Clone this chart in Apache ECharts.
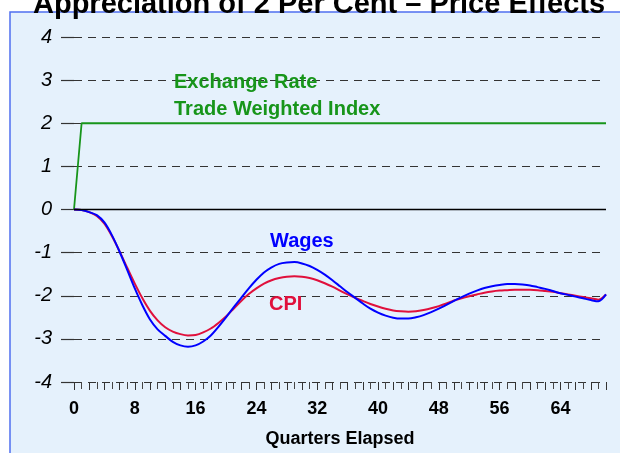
<!DOCTYPE html>
<html>
<head>
<meta charset="utf-8">
<script src="https://cdn.jsdelivr.net/npm/echarts@6/dist/echarts.min.js"></script>
<style>
  html, body { margin: 0; padding: 0; background: #fff; }
  #chart { width: 620px; height: 453px; }
</style>
</head>
<body>
<div id="chart"></div>
<script>
// quarters 0..70
var quarters = [];
for (var q = 0; q <= 70; q++) quarters.push(q);

var exchangeRate = [0, 2, 2, 2, 2, 2, 2, 2, 2, 2, 2, 2, 2, 2, 2, 2, 2, 2, 2, 2,
    2, 2, 2, 2, 2, 2, 2, 2, 2, 2, 2, 2, 2, 2, 2, 2, 2, 2, 2, 2,
    2, 2, 2, 2, 2, 2, 2, 2, 2, 2, 2, 2, 2, 2, 2, 2, 2, 2, 2, 2,
    2, 2, 2, 2, 2, 2, 2, 2, 2, 2, 2];

var wages = [0, -0.01, -0.06, -0.13, -0.3, -0.6, -0.98, -1.4, -1.83, -2.22,
    -2.55, -2.78, -2.93, -3.07, -3.15, -3.18, -3.15, -3.06, -2.92, -2.72,
    -2.5, -2.27, -2.05, -1.83, -1.63, -1.46, -1.34, -1.26, -1.23, -1.22,
    -1.25, -1.31, -1.4, -1.51, -1.64, -1.78, -1.92, -2.05, -2.18, -2.3,
    -2.39, -2.46, -2.51, -2.53, -2.53, -2.5, -2.45, -2.38, -2.3, -2.21,
    -2.12, -2.03, -1.95, -1.88, -1.82, -1.78, -1.75, -1.73, -1.73, -1.74,
    -1.76, -1.8, -1.84, -1.89, -1.94, -1.98, -2.02, -2.06, -2.1, -2.13, -1.97];

var cpi = [0, -0.01, -0.06, -0.15, -0.33, -0.62, -0.97, -1.35, -1.72, -2.06,
    -2.35, -2.57, -2.73, -2.83, -2.89, -2.92, -2.91, -2.85, -2.76, -2.63,
    -2.48, -2.3, -2.12, -1.96, -1.83, -1.72, -1.64, -1.59, -1.56, -1.55,
    -1.56, -1.59, -1.64, -1.71, -1.79, -1.88, -1.97, -2.05, -2.12, -2.19,
    -2.25, -2.3, -2.34, -2.36, -2.37, -2.36, -2.33, -2.29, -2.24, -2.18,
    -2.11, -2.06, -2.01, -1.97, -1.93, -1.9, -1.88, -1.87, -1.86, -1.86,
    -1.86, -1.87, -1.89, -1.91, -1.94, -1.97, -2.0, -2.03, -2.06, -2.09, -1.97];

function pairs(vals) {
    return vals.map(function (v, i) { return [quarters[i], v]; });
}

var font = '"Liberation Sans", Arial, sans-serif';
var chart = echarts.init(document.getElementById('chart'));

chart.setOption({
    backgroundColor: '#ffffff',
    animation: false,
    title: {
        text: 'Appreciation of 2 Per Cent \u2013 Price Effects',
        left: 28,
        top: -15,
        textStyle: { fontFamily: font, fontSize: 29, fontWeight: 'bold', color: '#000' }
    },
    graphic: [
        {
            type: 'rect', z: -10, silent: true,
            shape: { x: 10, y: 12, width: 620, height: 460 },
            style: { fill: '#e5f1fc', stroke: '#4f6ff0', lineWidth: 1.5 }
        },
        {
            type: 'text', left: 174, top: 72, z: 10,
            style: { text: 'Exchange Rate', font: 'bold 20px ' + font, fill: '#17951a' }
        },
        {
            type: 'text', left: 174, top: 99, z: 10,
            style: { text: 'Trade Weighted Index', font: 'bold 20px ' + font, fill: '#17951a' }
        },
        {
            type: 'text', left: 270, top: 231, z: 10,
            style: { text: 'Wages', font: 'bold 20px ' + font, fill: '#0000ff' }
        },
        {
            type: 'text', left: 269, top: 294, z: 10,
            style: { text: 'CPI', font: 'bold 20px ' + font, fill: '#e0103c' }
        }
    ],
    grid: { left: 74, right: 14, top: 37, bottom: 71 },
    xAxis: {
        type: 'value',
        min: 0,
        max: 70,
        interval: 2,
        name: 'Quarters Elapsed',
        nameLocation: 'middle',
        nameGap: 48,
        nameTextStyle: { fontFamily: font, fontSize: 18, fontWeight: 'bold', color: '#000' },
        axisLine: { show: false, onZero: false },
        axisTick: { show: true, length: 8, lineStyle: { color: '#333' } },
        minorTick: { show: true, splitNumber: 2, length: 7, lineStyle: { color: '#444' } },
        splitLine: { show: false },
        axisLabel: {
            margin: 18,
            fontFamily: font, fontSize: 18, fontWeight: 'bold', color: '#000',
            formatter: function (v) { return v % 8 === 0 ? String(v) : ''; }
        }
    },
    yAxis: {
        type: 'value',
        min: -4,
        max: 4,
        interval: 1,
        axisLine: { show: false },
        axisTick: { show: true, length: 13, lineStyle: { color: '#333', width: 1.2 } },
        axisLabel: {
            margin: 22,
            fontFamily: font, fontSize: 20, fontStyle: 'italic', color: '#000'
        },
        splitLine: { lineStyle: { color: '#333', type: [8, 6], width: 1.2 } }
    },
    series: [
        {
            name: 'Exchange Rate', type: 'line', showSymbol: false,
            data: pairs(exchangeRate),
            lineStyle: { color: '#17951a', width: 1.8 },
            markLine: {
                silent: true, symbol: 'none', label: { show: false },
                lineStyle: { color: '#000', type: 'solid', width: 1.4 },
                data: [{ yAxis: 0 }]
            }
        },
        {
            name: 'CPI', type: 'line', showSymbol: false, smooth: 0.3,
            data: pairs(cpi),
            lineStyle: { color: '#e0103c', width: 2 }
        },
        {
            name: 'Wages', type: 'line', showSymbol: false, smooth: 0.3,
            data: pairs(wages),
            lineStyle: { color: '#0000ff', width: 2 }
        }
    ]
});
</script>
</body>
</html>
